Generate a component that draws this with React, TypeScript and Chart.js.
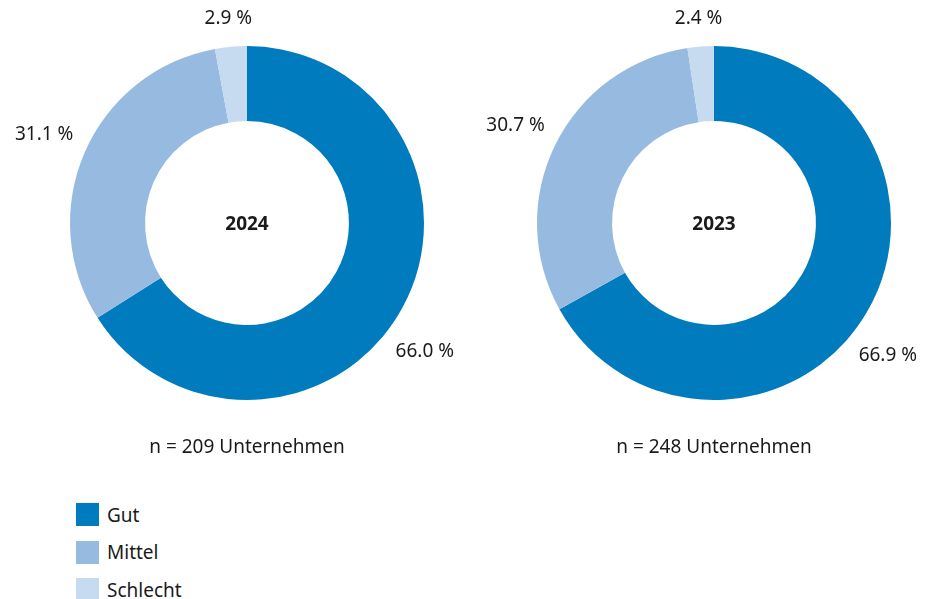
import React, { useEffect, useRef } from "react";
import { Chart, registerables } from "chart.js";

Chart.register(...registerables);

const categories = ["Gut", "Mittel", "Schlecht"];
const values2024 = [66.0, 31.1, 2.9];
const values2023 = [66.9, 30.7, 2.4];
const years = ["2024", "2023"];
const sampleSizes = [209, 248];
const colors = ["#007BBD", "#97BBE0", "#C6DAF0"];

const FONT = "'Noto Sans', sans-serif";

function fmt(v: number) {
  return v.toFixed(1) + " %";
}

function Donut({ values, year, n, left }: { values: number[]; year: string; n: number; left: number }) {
  const ref = useRef<HTMLCanvasElement | null>(null);
  useEffect(() => {
    if (!ref.current) return;
    const labelPlugin = {
      id: "labels",
      afterDraw(chart: any) {
        const ctx = chart.ctx;
        const meta = chart.getDatasetMeta(0);
        ctx.save();
        ctx.fillStyle = "#1a1a1a";
        ctx.textAlign = "center";
        ctx.textBaseline = "middle";
        ctx.font = "19px " + FONT;
        let cx = 0, cy = 0, outer = 0;
        meta.data.forEach((arc: any, i: number) => {
          const p = arc.getProps(["x", "y", "startAngle", "endAngle", "outerRadius"], true);
          cx = p.x; cy = p.y; outer = p.outerRadius;
          let mid = (p.startAngle + p.endAngle) / 2;
          if (Math.sin(mid) > 0) mid += (7 * Math.PI) / 180;
          const r = p.outerRadius + 26 + 20 * Math.abs(Math.cos(mid));
          ctx.fillText(fmt(values[i]), p.x + r * Math.cos(mid), p.y + r * Math.sin(mid));
        });
        ctx.font = "bold 19px " + FONT;
        ctx.fillText(year, cx, cy + 2);
        ctx.font = "19px " + FONT;
        ctx.fillText("n = " + n + " Unternehmen", cx, cy + outer + 48);
        ctx.restore();
      },
    };
    const chart = new Chart(ref.current, {
      type: "doughnut",
      data: {
        labels: categories,
        datasets: [
          {
            data: values,
            backgroundColor: colors,
            borderWidth: 0,
          },
        ],
      },
      options: {
        animation: false,
        responsive: false,
        cutout: "57.6%",
        layout: { padding: { left: 70, right: 44, top: 46, bottom: 70 } },
        plugins: { legend: { display: false }, tooltip: { enabled: false } },
      },
      plugins: [labelPlugin],
    });
    return () => chart.destroy();
  }, [values, year, n]);
  return (
    <canvas
      ref={ref}
      width={468}
      height={470}
      style={{ position: "absolute", left, top: 0, width: 468, height: 470 }}
    />
  );
}

export default function App() {
  return (
    <div style={{ position: "absolute", left: 0, top: 0, width: 936, height: 599, background: "#fff", overflow: "hidden", fontFamily: FONT }}>
      <Donut values={values2024} year={years[0]} n={sampleSizes[0]} left={0} />
      <Donut values={values2023} year={years[1]} n={sampleSizes[1]} left={467} />
      <div style={{ position: "absolute", left: 76, top: 503 }}>
        {categories.map((c, i) => (
          <div key={c} style={{ display: "flex", alignItems: "center", height: 23, marginBottom: 14.5 }}>
            <div style={{ width: 23, height: 23, background: colors[i] }} />
            <span style={{ marginLeft: 8, fontSize: 19, color: "#1a1a1a" }}>{c}</span>
          </div>
        ))}
      </div>
    </div>
  );
}
